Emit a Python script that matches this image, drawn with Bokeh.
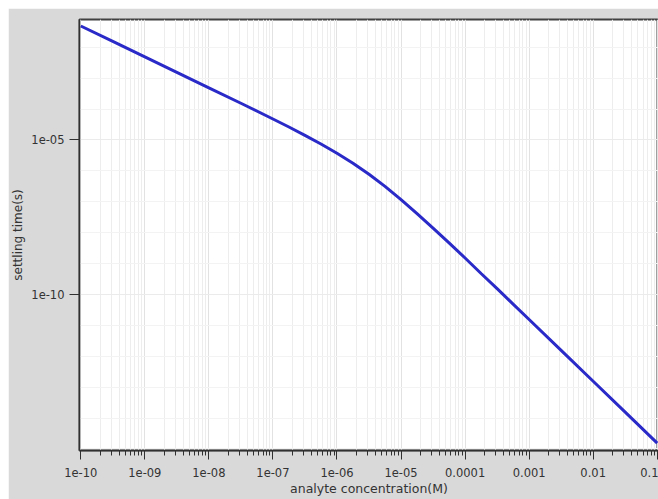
from bokeh.plotting import figure
from bokeh.embed import file_html
from bokeh.resources import INLINE
from bokeh.models import FixedTicker, CustomJSTickFormatter, Range1d

# Data (log10 values)
log_conc = [-10.0, -9.5, -9.0, -8.5, -8.0, -7.5, -7.0, -6.75, -6.5, -6.25, -6.0,
            -5.75, -5.5, -5.25, -5.0, -4.75, -4.5, -4.25, -4.0, -3.75, -3.5,
            -3.25, -3.0, -2.5, -2.0, -1.5, -1.0]
log_time = [-1.31, -1.81, -2.31, -2.81, -3.31, -3.81, -4.32, -4.58, -4.85, -5.13, -5.43,
            -5.75, -6.11, -6.50, -6.93, -7.38, -7.85, -8.33, -8.82, -9.32, -9.81,
            -10.31, -10.81, -11.81, -12.81, -13.81, -14.81]

conc = [10 ** v for v in log_conc]
settle = [10 ** v for v in log_time]

x_tick_exps = [-10, -9, -8, -7, -6, -5, -4, -3, -2, -1]
x_tick_labels = ["1e-10", "1e-09", "1e-08", "1e-07", "1e-06", "1e-05",
                 "0.0001", "0.001", "0.01", "0.1"]
y_tick_exps = [-10, -5]
y_tick_labels = ["1e-10", "1e-05"]

x_label = "analyte concentration(M)"
y_label = "settling time(s)"

p = figure(width=650, height=491, x_axis_type="log", y_axis_type="log",
           output_backend="svg", toolbar_location=None,
           x_range=Range1d(10 ** -10.02, 10 ** -0.98),
           y_range=Range1d(10 ** -15.05, 10 ** -1.1),
           min_border_left=71, min_border_right=0, min_border_top=11, min_border_bottom=49)
p.margin = (8, 0, 0, 8)

p.border_fill_color = "#d9d9d9"
p.background_fill_color = "white"
p.outline_line_color = "#404040"
p.outline_line_width = 2

p.line(conc, settle, line_color="#2a2ac8", line_width=3)

# ticks
x_minor = [m * 10 ** e for e in x_tick_exps for m in range(2, 10)]
p.xaxis.ticker = FixedTicker(ticks=[10 ** e for e in x_tick_exps], minor_ticks=x_minor)
p.yaxis.ticker = FixedTicker(ticks=[10 ** e for e in y_tick_exps],
                             minor_ticks=[10 ** e for e in range(-16, 0)])

fmt_code = """
const e = Math.round(Math.log10(tick));
const i = exps.indexOf(e);
return i >= 0 ? labs[i] : "";
"""
p.xaxis.formatter = CustomJSTickFormatter(args=dict(exps=x_tick_exps, labs=x_tick_labels), code=fmt_code)
p.yaxis.formatter = CustomJSTickFormatter(args=dict(exps=y_tick_exps, labs=y_tick_labels), code=fmt_code)

for ax in (p.xaxis[0], p.yaxis[0]):
    ax.axis_line_color = "#303030"
    ax.axis_line_width = 1.5
    ax.major_tick_line_color = "#303030"
    ax.major_tick_in = 0
    ax.major_tick_out = 9
    ax.minor_tick_in = 0
    ax.minor_tick_out = 5
    ax.minor_tick_line_color = "#303030"
    ax.major_label_text_font = "DejaVu Sans"
    ax.major_label_text_font_size = "11.5px"
    ax.major_label_text_color = "#333333"
    ax.axis_label_text_font = "DejaVu Sans"
    ax.axis_label_text_font_style = "normal"
    ax.axis_label_text_color = "#333333"

p.yaxis.minor_tick_line_color = None
p.yaxis.major_tick_out = 10
p.xaxis.major_label_standoff = 8
p.yaxis.major_label_standoff = 5
p.xaxis.axis_label = x_label
p.yaxis.axis_label = y_label
p.xaxis.axis_label_text_font_size = "12.5px"
p.yaxis.axis_label_text_font_size = "12px"
p.xaxis.axis_label_standoff = 1
p.yaxis.axis_label_standoff = 3

p.xgrid.grid_line_color = "#e2e2e2"
p.xgrid.minor_grid_line_color = "#ededed"
p.ygrid.grid_line_color = "#ebebeb"
p.ygrid.minor_grid_line_color = "#f3f3f3"

open("out.html", "w").write(file_html(p, INLINE))
